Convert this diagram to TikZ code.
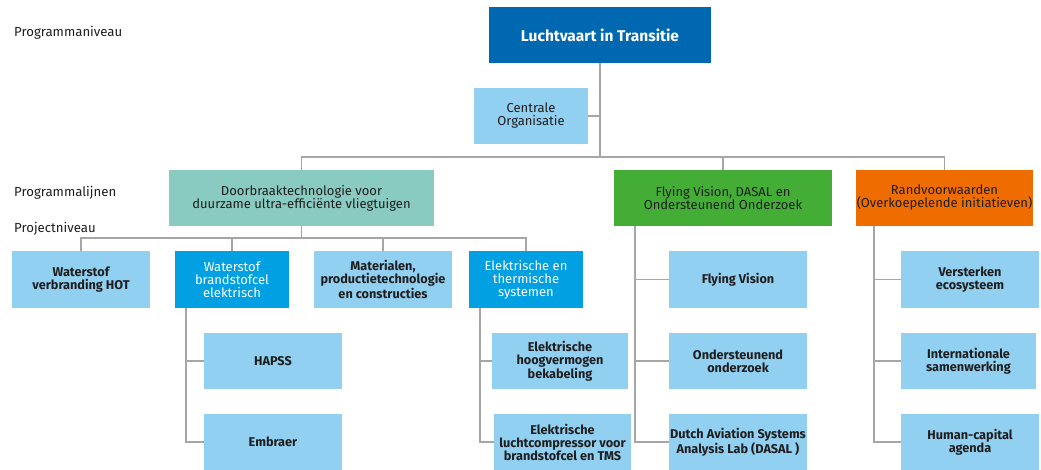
\documentclass[tikz,border=0pt]{standalone}
\usepackage{fontspec}
\setmainfont{Fira Sans}
\definecolor{dblue}{HTML}{0067B1}
\definecolor{lblue}{HTML}{92D0F2}
\definecolor{mblue}{HTML}{00A0E2}
\definecolor{teal}{HTML}{89CBC0}
\definecolor{green}{HTML}{43AD35}
\definecolor{orange}{HTML}{EE6C00}
\definecolor{txt}{HTML}{1E1E1E}
\definecolor{ln}{HTML}{A6A6A6}
\tikzset{
  box/.style={rectangle, inner sep=1pt, align=center, minimum height=56pt, text=txt,
    font=\fontsize{13}{13}\selectfont},
  proj/.style={box, fill=lblue, font=\fontsize{12.7}{13}\selectfont\bfseries},
  wbox/.style={box, fill=mblue, text=white},
  conn/.style={draw=ln, line width=1.4pt},
  lvl/.style={anchor=west, text=txt, inner sep=0pt, font=\fontsize{13.2}{13}\selectfont}
}
\begin{document}
\begin{tikzpicture}[x=1pt,y=-1pt]
\useasboundingbox (0,0) rectangle (1041,470);
% left labels
\node[lvl] (l1) at (14,33) {Programmaniveau};
\node[lvl] (l2) at (14,193) {Programmalijnen};
\node[lvl] (l3) at (14,229) {Projectniveau};
% top
\node[box, fill=dblue, text=white, minimum width=222pt, font=\fontsize{15.5}{16}\selectfont\bfseries] (top) at (600,35) {Luchtvaart in Transitie};
\node[box, fill=lblue, minimum width=114pt] (cent) at (531,116) {Centrale\\Organisatie};
% programme lines
\node[box, fill=teal, minimum width=265pt] (door) at (301.5,198) {Doorbraaktechnologie voor\\duurzame ultra-efficiënte vliegtuigen};
\node[box, fill=green, minimum width=218pt] (fv) at (723,198) {Flying Vision, DASAL en\\Ondersteunend Onderzoek};
\node[box, fill=orange, minimum width=175pt] (rand) at (944.5,198) {Randvoorwaarden\\(Overkoepelende initiatieven)};
% projects row
\node[proj, minimum width=138pt, minimum height=57pt] (p1) at (81,279.5) {Waterstof\\verbranding HOT};
\node[wbox, minimum width=114pt, minimum height=57pt] (p2) at (232,279.5) {Waterstof\\brandstofcel\\elektrisch};
\node[proj, minimum width=138pt, minimum height=57pt] (p3) at (383,279.5) {Materialen,\\productietechnologie\\en constructies};
\node[wbox, minimum width=114pt, minimum height=57pt] (p4) at (526,279.5) {Elektrische en\\thermische\\systemen};
% sub projects
\node[proj, minimum width=138pt] (hapss) at (273,361) {HAPSS};
\node[proj, minimum width=138pt] (emb) at (273,442) {Embraer};
\node[proj, minimum width=136pt] (e1) at (560,361) {Elektrische\\hoogvermogen\\bekabeling};
\node[proj, minimum width=137pt] (e2) at (562.5,442) {Elektrische\\luchtcompressor voor\\brandstofcel en TMS};
\node[proj, minimum width=138pt, minimum height=57pt] (f1) at (738,279.5) {Flying Vision};
\node[proj, minimum width=138pt] (f2) at (738,361) {Ondersteunend\\onderzoek};
\node[proj, minimum width=138pt] (f3) at (738,442) {Dutch Aviation Systems\\Analysis Lab (DASAL )};
\node[proj, minimum width=138pt, minimum height=57pt] (r1) at (970,279.5) {Versterken\\ecosysteem};
\node[proj, minimum width=135pt] (r2) at (968.5,361) {Internationale\\samenwerking};
\node[proj, minimum width=138pt] (r3) at (970,442) {Human-capital\\agenda};
% connectors
\coordinate (b1) at (600,157);
\coordinate (b2) at (301.5,238);
\coordinate (v2) at (186,308);
\coordinate (v4) at (480,308);
\coordinate (vf) at (635,226);
\coordinate (vr) at (874,226);
\draw[conn] (top.south) -- (b1);
\draw[conn] (cent.east) -- (cent.east -| b1);
\draw[conn] (door.north) |- (b1) -| (rand.north);
\draw[conn] (fv.north) -- (fv.north |- b1);
\draw[conn] (door.south) -- (b2);
\draw[conn] (p1.north) |- (b2) -| (p4.north);
\draw[conn] (p2.north) -- (p2.north |- b2);
\draw[conn] (p3.north) -- (p3.north |- b2);
\draw[conn] (v2) |- (emb.west);
\draw[conn] (hapss.west) -- (hapss.west -| v2);
\draw[conn] (v4) |- (e2.west);
\draw[conn] (e1.west) -- (e1.west -| v4);
\draw[conn] (vf) |- (f3.west);
\draw[conn] (f1.west) -- (f1.west -| vf);
\draw[conn] (f2.west) -- (f2.west -| vf);
\draw[conn] (vr) |- (r3.west);
\draw[conn] (r1.west) -- (r1.west -| vr);
\draw[conn] (r2.west) -- (r2.west -| vr);
\end{tikzpicture}
\end{document}
